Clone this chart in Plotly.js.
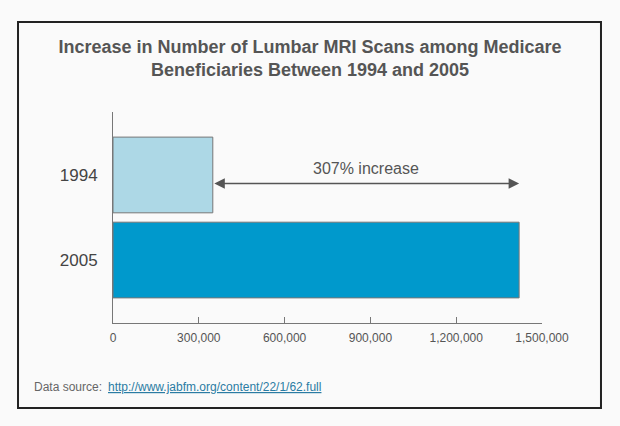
<!DOCTYPE html>
<html>
<head>
<meta charset="utf-8">
<script src="https://cdn.plot.ly/plotly-3.0.1.min.js"></script>
<style>
html,body{margin:0;padding:0;background:#fafafa;}
#chart{width:620px;height:426px;}
</style>
</head>
<body>
<div id="chart"></div>
<script>
const years = ["1994", "2005"];
const scans = [349000, 1420000];
const barColors = ["#add8e6", "#0099cc"];
const xTickVals = [0, 300000, 600000, 900000, 1200000, 1500000];
const xTickText = ["0", "300,000", "600,000", "900,000", "1,200,000", "1,500,000"];
const increaseLabel = "307% increase";
const sourceUrl = "http://www.jabfm.org/content/22/1/62.full";

const trace = {
  type: "bar",
  orientation: "h",
  y: years,
  x: scans,
  width: 0.89,
  marker: {color: barColors, line: {color: "#777777", width: 1}},
  hoverinfo: "none"
};

const layout = {
  width: 620, height: 426,
  paper_bgcolor: "#fafafa",
  plot_bgcolor: "rgba(0,0,0,0)",
  margin: {l: 113, r: 78, t: 112, b: 103},
  showlegend: false,
  font: {family: "Liberation Sans, Arial, sans-serif", color: "#555555"},
  title: {
    text: "Increase in Number of Lumbar MRI Scans among Medicare<br>Beneficiaries Between 1994 and 2005",
    font: {size: 18, color: "#555555", weight: "bold"},
    x: 0.5, xanchor: "center", y: 0.876, yanchor: "top", yref: "container"
  },
  xaxis: {
    range: [0, 1500000],
    tickvals: xTickVals, ticktext: xTickText,
    ticks: "inside", ticklen: 6, tickcolor: "#777777", tickwidth: 1,
    showline: true, linecolor: "#777777", linewidth: 1,
    showgrid: false, zeroline: false,
    tickfont: {size: 12, color: "#555555"},
    ticklabelstandoff: 4,
    fixedrange: true
  },
  yaxis: {
    type: "category",
    categoryorder: "array", categoryarray: years,
    range: [1.74, -0.74],
    showline: true, linecolor: "#777777", linewidth: 1,
    ticks: "", showgrid: false, zeroline: false,
    tickfont: {size: 17, color: "#444444"},
    ticklabelstandoff: 11,
    fixedrange: true
  },
  shapes: [{
    type: "rect", xref: "paper", yref: "paper", layer: "below",
    x0: -0.2214, x1: 1.1375, y0: -0.4028, y1: 1.4265,
    line: {color: "#222222", width: 2}, fillcolor: "#fafafa"
  }],
  annotations: [
    {
      x: scans[1], y: 0.1, xref: "x", yref: "y",
      ax: scans[0], ay: 0.1, axref: "x", ayref: "y",
      showarrow: true, arrowside: "end+start", arrowhead: 2, arrowsize: 1.4,
      arrowwidth: 1.5, arrowcolor: "#555555", text: "", standoff: 0, startstandoff: 0
    },
    {
      x: (scans[0] + scans[1]) / 2, y: 0.1, xref: "x", yref: "y",
      text: increaseLabel, showarrow: false, yanchor: "bottom", yshift: 4,
      font: {size: 16, color: "#555555"}
    },
    {
      x: -0.188, y: -0.303, xref: "paper", yref: "paper",
      xanchor: "left", yanchor: "middle", showarrow: false,
      text: "Data source:", font: {size: 12, color: "#666666"}
    },
    {
      x: -0.016, y: -0.303, xref: "paper", yref: "paper",
      xanchor: "left", yanchor: "middle", showarrow: false,
      text: '<a href="' + sourceUrl + '" style="fill:#2b7ca3;color:#2b7ca3">' + sourceUrl + '</a>',
      font: {size: 12, color: "#2b7ca3", lineposition: "under"}
    }
  ]
};

Plotly.newPlot("chart", [trace], layout, {displayModeBar: false});
</script>
</body>
</html>
